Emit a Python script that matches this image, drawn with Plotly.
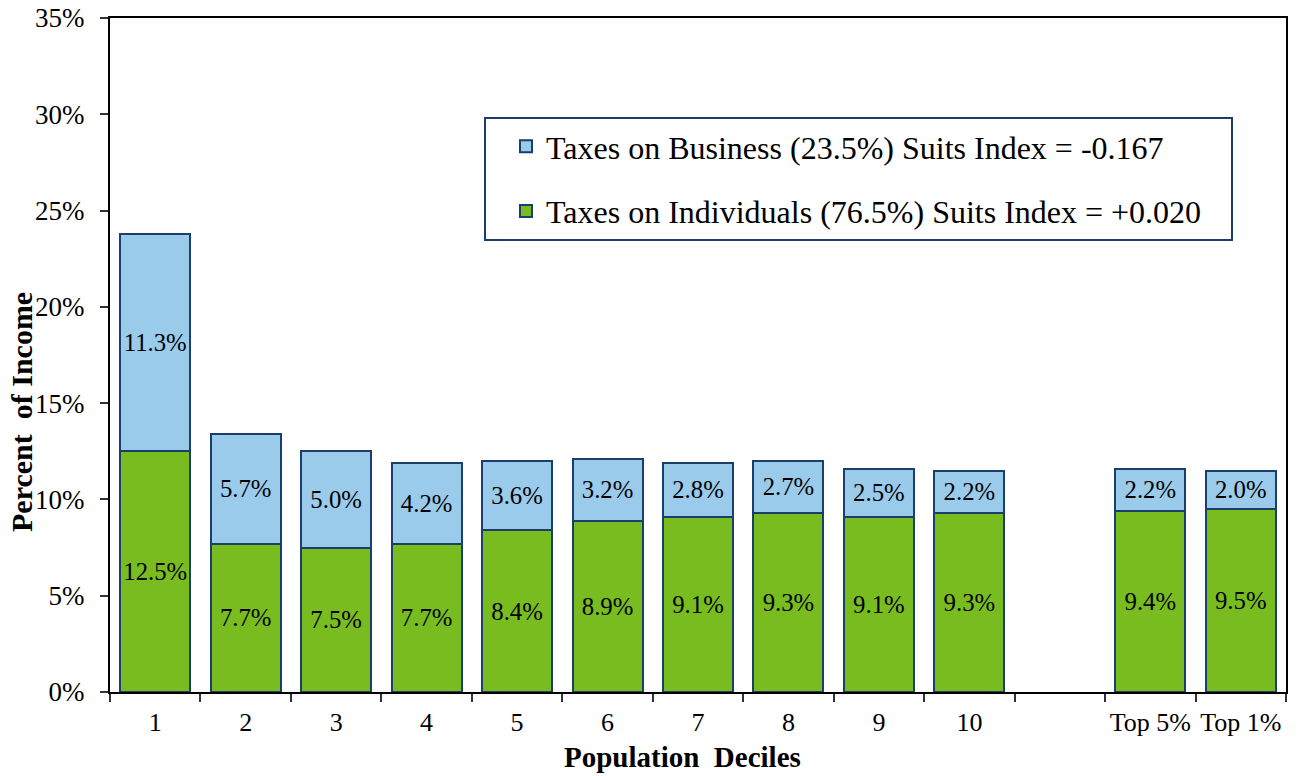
import plotly.graph_objects as go

categories = ["1", "2", "3", "4", "5", "6", "7", "8", "9", "10", " ", "Top 5%", "Top 1%"]
individuals = [12.5, 7.7, 7.5, 7.7, 8.4, 8.9, 9.1, 9.3, 9.1, 9.3, None, 9.4, 9.5]
business = [11.3, 5.7, 5.0, 4.2, 3.6, 3.2, 2.8, 2.7, 2.5, 2.2, None, 2.2, 2.0]
ytick_vals = [0, 5, 10, 15, 20, 25, 30, 35]
ytick_text = ["0%", "5%", "10%", "15%", "20%", "25%", "30%", "35%"]

name_ind = "Taxes on Individuals (76.5%) Suits Index = +0.020"
name_bus = "Taxes on Business (23.5%) Suits Index = -0.167"

FONT = "Liberation Serif, Times New Roman, serif"
OUTLINE = "#1A3F6A"
GREEN = "#78BC20"
BLUE = "#9BCBEB"
PAD = "&nbsp;" * 3

def labels(vals):
    return ["" if v is None else f"{v:.1f}%" for v in vals]

fig = go.Figure()
fig.add_trace(go.Bar(
    x=categories, y=individuals, name=name_ind + PAD,
    marker=dict(color=GREEN, line=dict(color=OUTLINE, width=2)),
    text=labels(individuals), textposition="inside", insidetextanchor="middle",
    textangle=0, textfont=dict(family=FONT, size=25, color="black"),
    legendgroup="ind", legendrank=2, hoverinfo="skip",
))
fig.add_trace(go.Bar(
    x=categories, y=business, name=name_bus + PAD,
    marker=dict(color=BLUE, line=dict(color=OUTLINE, width=2)),
    text=labels(business), textposition="inside", insidetextanchor="middle",
    textangle=0, textfont=dict(family=FONT, size=25, color="black"),
    legendgroup="bus", legendrank=1, hoverinfo="skip",
))

fig.update_layout(
    width=1301, height=776,
    barmode="stack", bargap=0.226,
    plot_bgcolor="white", paper_bgcolor="white",
    margin=dict(l=110, r=15, t=18, b=84, autoexpand=False),
    font=dict(family=FONT, size=27, color="black"),
    uniformtext=dict(minsize=24, mode="show"),
    legend=dict(
        x=(484 - 110) / 1176, y=(692 - 117) / 674, xanchor="left", yanchor="top",
        bordercolor=OUTLINE, borderwidth=2, bgcolor="white",
        font=dict(family=FONT, size=32, color="black"),
        traceorder="grouped", tracegroupgap=20, indentation=20,
    ),
    xaxis=dict(
        type="category", categoryorder="array", categoryarray=categories,
        tickson="boundaries", ticks="outside", ticklen=8, tickwidth=1.5, tickcolor="#333",
        showline=True, linecolor="black", linewidth=2, mirror=True, automargin=False,
        showgrid=False, tickfont=dict(family=FONT, size=26), ticklabelstandoff=6,
        tickangle=0,
    ),
    yaxis=dict(
        range=[0, 35], tickmode="array", tickvals=ytick_vals, ticktext=ytick_text,
        ticks="outside", ticklen=8, tickwidth=1.5, tickcolor="#333",
        showline=True, linecolor="black", linewidth=2, mirror=True, automargin=False,
        showgrid=False, zeroline=False, tickfont=dict(family=FONT, size=27),
        ticklabelstandoff=10,
    ),
    annotations=[
        dict(text="<b>Percent  of Income</b>", textangle=-90, xref="paper", yref="paper",
             x=(21 - 110) / 1176, y=(692 - 412) / 674, xanchor="center", yanchor="middle",
             showarrow=False, font=dict(family=FONT, size=30, color="black")),
        dict(text="<b>Population  Deciles</b>", xref="paper", yref="paper",
             x=(682 - 110) / 1176, y=(692 - 757) / 674, xanchor="center", yanchor="middle",
             showarrow=False, font=dict(family=FONT, size=29, color="black")),
    ],
)

fig.write_html("out.html", config={"displayModeBar": False},
               post_script="document.body.style.margin='0';")
